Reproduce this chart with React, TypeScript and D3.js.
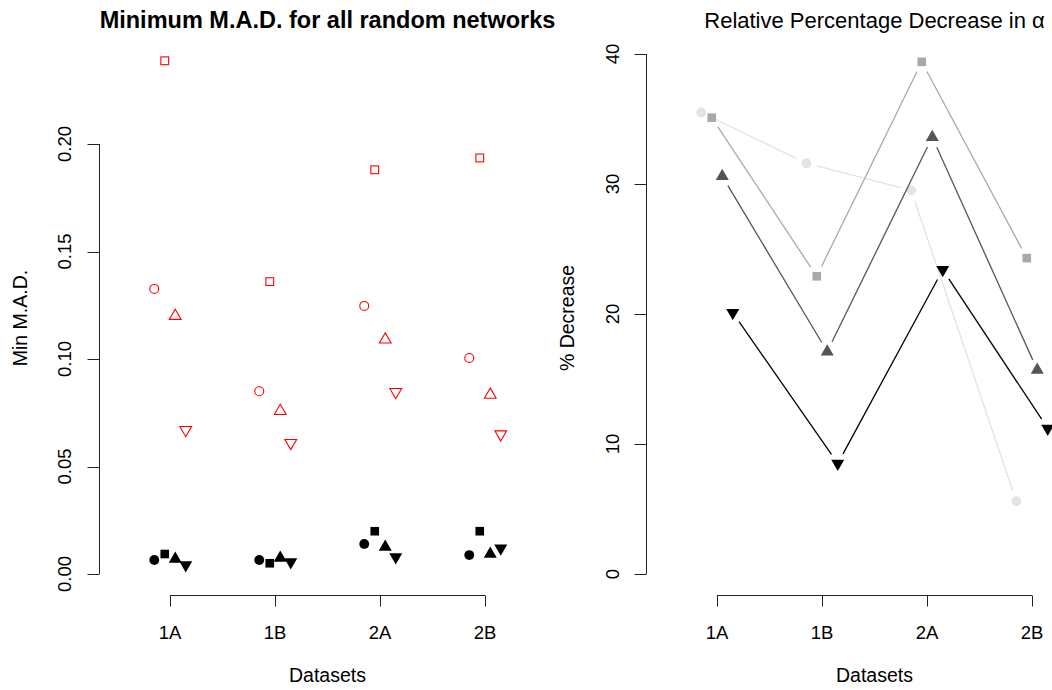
import React from "react"
import * as d3 from "d3"

// Categories
const datasets = ["1A", "1B", "2A", "2B"]

// Minimum M.A.D. (left panel), one array per marker shape
const redCircle = [0.1326, 0.085, 0.1247, 0.1005]
const redSquare = [0.2387, 0.136, 0.188, 0.1935]
const redUp = [0.12, 0.0758, 0.109, 0.0833]
const redDown = [0.067, 0.061, 0.0847, 0.065]

const blackCircle = [0.0065, 0.0065, 0.014, 0.0088]
const blackSquare = [0.0093, 0.005, 0.0199, 0.0199]
const blackUp = [0.007, 0.0074, 0.0126, 0.0093]
const blackDown = [0.0042, 0.0056, 0.0079, 0.012]

// Relative percentage decrease (right panel)
const pctCircle = [35.5, 31.6, 29.5, 5.6]
const pctSquare = [35.1, 22.9, 39.4, 24.3]
const pctUp = [30.6, 17.1, 33.6, 15.7]
const pctDown = [20.1, 8.5, 23.4, 11.2]

const madTicks = [0, 0.05, 0.1, 0.15, 0.2]
const pctTicks = [0, 10, 20, 30, 40]

const shapes = ["circle", "square", "up", "down"]
const offsets = [-0.15, -0.05, 0.05, 0.15]
const greys = ["#e3e3e3", "#a9a9a9", "#555555", "#000000"]

const font = "'Liberation Sans', Arial, Helvetica, sans-serif"

function Marker({ shape, x, y, fill, stroke, s = 1 }) {
  if (shape === "circle")
    return <circle cx={x} cy={y} r={4.7 * s} fill={fill} stroke={stroke} strokeWidth={1.1} />
  if (shape === "square") {
    const h = 4.1 * s
    return <rect x={x - h} y={y - h} width={2 * h} height={2 * h} fill={fill} stroke={stroke} strokeWidth={1.1} />
  }
  const u = 4.6 * s
  const dir = shape === "up" ? 1 : -1
  const pts = [
    [x, y - dir * 1.555 * u],
    [x + 1.347 * u, y + dir * 0.778 * u],
    [x - 1.347 * u, y + dir * 0.778 * u]
  ]
  return <polygon points={pts.map(p => p.join(",")).join(" ")} fill={fill} stroke={stroke} strokeWidth={1.1} />
}

function Axes({ x, y, ticks, fmt, xLabel, yLabel, title, bold, yLabelX, tickLabelX }) {
  const yAxisX = x(1) - 70.5
  const xAxisY = 595.5
  return (
    <g fontFamily={font} fill="#000">
      <text x={(x(1) + x(4)) / 2} y={28} textAnchor="middle" fontSize={bold ? 23.5 : 22} fontWeight={bold ? "bold" : "normal"}>
        {title}
      </text>
      <line x1={yAxisX} x2={yAxisX} y1={y(ticks[0])} y2={y(ticks[ticks.length - 1])} stroke="#222" />
      {ticks.map(t => (
        <g key={t}>
          <line x1={yAxisX - 12} x2={yAxisX} y1={Math.round(y(t)) + 0.5} y2={Math.round(y(t)) + 0.5} stroke="#222" />
          <text transform={`translate(${tickLabelX},${y(t)}) rotate(-90)`} textAnchor="middle" fontSize={18.5}>
            {fmt(t)}
          </text>
        </g>
      ))}
      <line x1={x(1)} x2={x(4)} y1={xAxisY} y2={xAxisY} stroke="#222" />
      {datasets.map((d, i) => (
        <g key={d}>
          <line x1={Math.round(x(i + 1)) + 0.5} x2={Math.round(x(i + 1)) + 0.5} y1={xAxisY} y2={xAxisY + 11} stroke="#222" />
          <text x={x(i + 1)} y={639} textAnchor="middle" fontSize={18.5}>
            {d}
          </text>
        </g>
      ))}
      <text x={(x(1) + x(4)) / 2} y={682} textAnchor="middle" fontSize={19.5}>
        {xLabel}
      </text>
      <text transform={`translate(${yLabelX},318) rotate(-90)`} textAnchor="middle" fontSize={19.5}>
        {yLabel}
      </text>
    </g>
  )
}

function App() {
  // Left panel scales
  const xL = d3.scaleLinear().domain([1, 4]).range([170, 485])
  const yL = d3.scaleLinear().domain([0, 0.2]).range([574, 144])
  // Right panel scales
  const xR = d3.scaleLinear().domain([1, 4]).range([717, 1032])
  const yR = d3.scaleLinear().domain([0, 40]).range([574, 54])

  const redSeries = [redCircle, redSquare, redUp, redDown]
  const blackSeries = [blackCircle, blackSquare, blackUp, blackDown]
  const pctSeries = [pctCircle, pctSquare, pctUp, pctDown]

  const gap = 11

  return (
    <svg width={1052} height={690} style={{ display: "block", position: "absolute", left: 0, top: 0 }}>
      <rect width={1052} height={690} fill="#fff" />
      <Axes
        x={xL}
        y={yL}
        ticks={madTicks}
        fmt={d3.format(".2f")}
        xLabel="Datasets"
        yLabel="Min M.A.D."
        title="Minimum M.A.D. for all random networks"
        bold
        yLabelX={27}
        tickLabelX={71}
      />
      <Axes
        x={xR}
        y={yR}
        ticks={pctTicks}
        fmt={d3.format("d")}
        xLabel="Datasets"
        yLabel="% Decrease"
        title="Relative Percentage Decrease in α"
        bold={false}
        yLabelX={574}
        tickLabelX={619}
      />

      {redSeries.map((vals, k) =>
        vals.map((v, i) => (
          <Marker key={`r${k}${i}`} shape={shapes[k]} x={xL(i + 1 + offsets[k])} y={yL(v)} fill="none" stroke="#ff0000" s={0.95} />
        ))
      )}
      {blackSeries.map((vals, k) =>
        vals.map((v, i) => (
          <Marker key={`b${k}${i}`} shape={shapes[k]} x={xL(i + 1 + offsets[k])} y={yL(v)} fill="#000" stroke="none" s={1.05} />
        ))
      )}

      {pctSeries.map((vals, k) => {
        const pts = vals.map((v, i) => [xR(i + 1 + offsets[k]), yR(v)])
        return (
          <g key={`p${k}`}>
            {d3.pairs(pts).map(([a, b], j) => {
              const dx = b[0] - a[0]
              const dy = b[1] - a[1]
              const len = Math.hypot(dx, dy)
              const ux = dx / len
              const uy = dy / len
              return (
                <line
                  key={j}
                  x1={a[0] + ux * gap}
                  y1={a[1] + uy * gap}
                  x2={b[0] - ux * gap}
                  y2={b[1] - uy * gap}
                  stroke={greys[k]}
                  strokeWidth={1.3}
                />
              )
            })}
            {pts.map((p, i) => (
              <Marker key={i} shape={shapes[k]} x={p[0]} y={p[1]} fill={greys[k]} stroke="none" s={1.05} />
            ))}
          </g>
        )
      })}
    </svg>
  )
}

export default App
